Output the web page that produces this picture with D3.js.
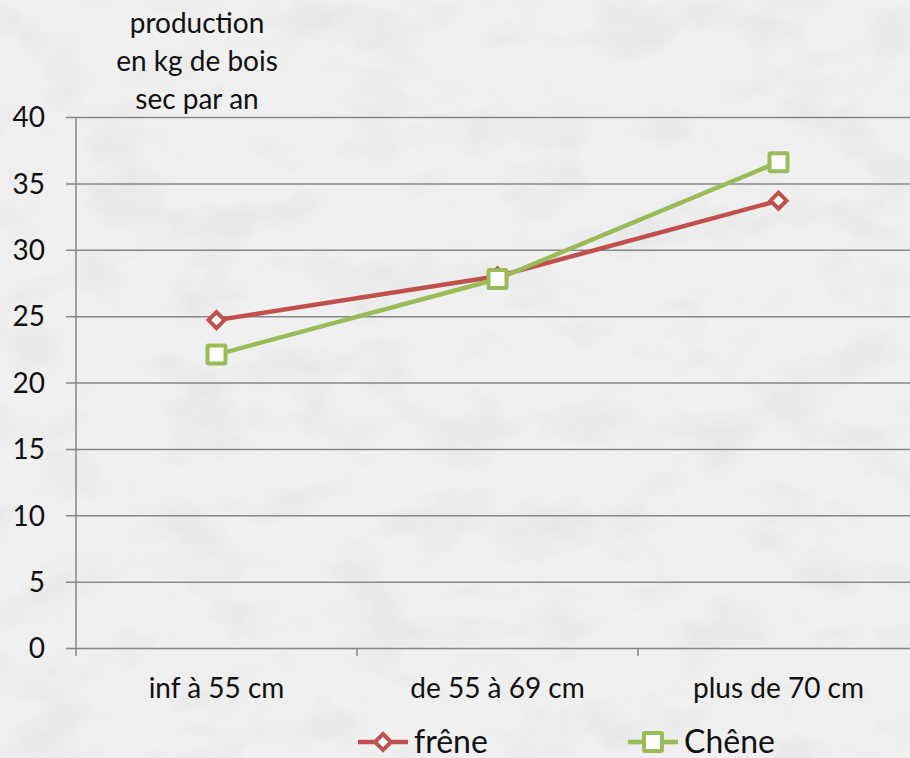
<!DOCTYPE html>
<html>
<head>
<meta charset="utf-8">
<script src="https://cdn.jsdelivr.net/npm/d3@7/dist/d3.min.js"></script>
<style>
  html, body { margin: 0; padding: 0; background: #ededed; }
  svg { display: block; }
  text { font-family: Lato, "Open Sans", sans-serif; fill: #111; }
</style>
</head>
<body>
<div id="chart"></div>
<script>
const categories = ["inf à 55 cm", "de 55 à 69 cm", "plus de 70 cm"];
const frene = [24.7, 28.0, 33.7];
const chene = [22.1, 27.8, 36.6];
const yTicks = [0, 5, 10, 15, 20, 25, 30, 35, 40];
const titleLines = ["production", "en kg de bois", "sec par an"];
const seriesNames = ["frêne", "Chêne"];

const W = 910, H = 758;
const FONT = "Lato, 'Open Sans', sans-serif";
const svg = d3.select("#chart").append("svg").attr("width", W).attr("height", H);

// stone-like backdrop
const defs = svg.append("defs");
const f = defs.append("filter").attr("id", "stone").attr("x", 0).attr("y", 0).attr("width", "100%").attr("height", "100%");
f.append("feTurbulence").attr("type", "fractalNoise").attr("baseFrequency", "0.012 0.02").attr("numOctaves", 5).attr("seed", 7).attr("result", "n");
f.append("feColorMatrix").attr("in", "n").attr("type", "matrix")
  .attr("values", "0 0 0 0 0.55  0 0 0 0 0.55  0 0 0 0 0.55  0 0 0 -1.4 0.75");
svg.append("rect").attr("width", W).attr("height", H).attr("fill", "#f0f0f0");
svg.append("rect").attr("width", W).attr("height", H).attr("filter", "url(#stone)").attr("opacity", 0.35);

const plotLeft = 76, plotRight = 919, plotTop = 117, plotBottom = 648;

const x = d3.scaleBand().domain(categories).range([plotLeft, plotRight]).padding(0);
const y = d3.scaleLinear().domain([0, 40]).range([plotBottom, plotTop]);

// horizontal gridlines + y axis
const yAxis = d3.axisLeft(y).tickValues(yTicks).tickSize(-(plotRight - plotLeft)).tickPadding(31);
const gy = svg.append("g").attr("transform", `translate(${plotLeft},0)`).call(yAxis);
gy.select(".domain").remove();
gy.selectAll(".tick line").attr("stroke", "#878787").attr("stroke-width", 1.5).attr("x1", -10);
gy.selectAll(".tick text").attr("font-size", 28).attr("font-family", FONT).attr("fill", "#111").attr("dy", "0.35em");

// vertical axis line
svg.append("line").attr("x1", plotLeft).attr("x2", plotLeft).attr("y1", plotTop).attr("y2", plotBottom + 8)
  .attr("stroke", "#878787").attr("stroke-width", 1.5);

// x axis
const xAxis = d3.axisBottom(x).tickSize(0);
const gx = svg.append("g").attr("transform", `translate(0,${plotBottom})`).call(xAxis);
gx.select(".domain").remove();
gx.selectAll(".tick text").attr("font-size", 28).attr("font-family", FONT).attr("fill", "#111")
  .attr("y", 50).attr("dy", 0);
// category separators
svg.append("g").selectAll("line").data(categories).join("line")
  .attr("x1", d => x(d) + x.bandwidth()).attr("x2", d => x(d) + x.bandwidth())
  .attr("y1", plotBottom).attr("y2", plotBottom + 8)
  .attr("stroke", "#878787").attr("stroke-width", 1.5);

// title
svg.append("text").attr("text-anchor", "middle").attr("font-size", 28)
  .selectAll("tspan").data(titleLines).join("tspan")
  .attr("x", 197).attr("y", (d, i) => 33 + i * 38).text(d => d);

const cx = d => x(d) + x.bandwidth() / 2;
const series = [
  { name: seriesNames[0], values: frene, color: "#c0504d", shape: "diamond" },
  { name: seriesNames[1], values: chene, color: "#9bbb59", shape: "square" }
];

const line = d3.line().x((d, i) => cx(categories[i])).y(d => y(d));

function marker(g, shape, color) {
  if (shape === "diamond") {
    g.append("path").attr("d", "M0,-8L8,0L0,8L-8,0Z")
      .attr("fill", "#fff").attr("stroke", color).attr("stroke-width", 4);
  } else {
    g.append("rect").attr("x", -9).attr("y", -9).attr("width", 18).attr("height", 18).attr("rx", 1)
      .attr("fill", "#fff").attr("stroke", color).attr("stroke-width", 4);
  }
}

series.forEach(s => {
  svg.append("path").datum(s.values).attr("d", line)
    .attr("fill", "none").attr("stroke", s.color).attr("stroke-width", 4.5).attr("stroke-linejoin", "round");
});
series.forEach(s => {
  s.values.forEach((v, i) => {
    const g = svg.append("g").attr("transform", `translate(${cx(categories[i])},${y(v)})`);
    marker(g, s.shape, s.color);
  });
});

// legend
const legendX = [358, 628];
series.forEach((s, i) => {
  const g = svg.append("g").attr("transform", `translate(${legendX[i]},742)`);
  g.append("line").attr("x1", 0).attr("x2", 50).attr("stroke", s.color).attr("stroke-width", 4.5);
  const m = g.append("g").attr("transform", "translate(25,0)");
  marker(m, s.shape, s.color);
  g.append("text").attr("x", 56).attr("y", 11).attr("font-size", 32).text(s.name);
});
</script>
</body>
</html>
